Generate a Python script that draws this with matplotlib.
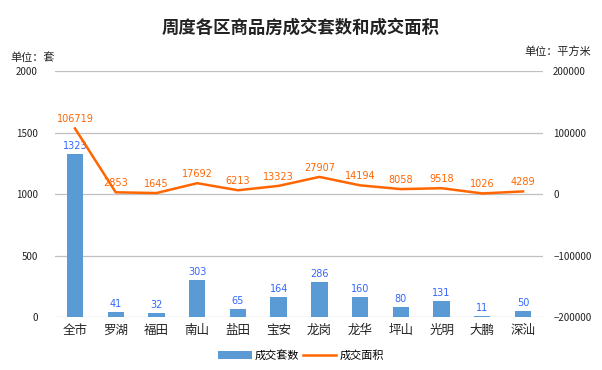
import matplotlib
matplotlib.use("Agg")
import matplotlib.pyplot as plt
import numpy as np

plt.rcParams['font.family'] = ['Noto Sans CJK SC', 'DejaVu Sans']

categories = ["全市", "罗湖", "福田", "南山", "盐田", "宝安", "龙岗", "龙华", "坪山", "光明", "大鹏", "深汕"]
units_sold = [1323, 41, 32, 303, 65, 164, 286, 160, 80, 131, 11, 50]
area_sold = [106719, 2853, 1645, 17692, 6213, 13323, 27907, 14194, 8058, 9518, 1026, 4289]
left_ticks = [0, 500, 1000, 1500, 2000]
right_ticks = [-200000, -100000, 0, 100000, 200000]

bar_color = "#5B9BD5"
line_color = "#FF6600"
label_blue = "#3366FF"

fig = plt.figure(figsize=(6.02, 3.70), dpi=100)
ax = fig.add_axes([0.0907, 0.143, 0.812, 0.665])
x = np.arange(len(categories))

ax.bar(x, units_sold, width=0.4, color=bar_color, zorder=2, label="成交套数")
ax.set_ylim(0, 2000)
ax.set_yticks(left_ticks)
ax.set_xlim(-0.5, len(categories) - 0.5)
ax.set_xticks(x)
ax.set_xticklabels(categories, fontsize=9, color="#222222")
ax.tick_params(axis='both', length=0)
ax.tick_params(axis='y', labelsize=7, colors="#222222", pad=12)
ax.tick_params(axis='x', pad=5)
ax.grid(axis='y', color="#C0C0C0", linewidth=0.9, zorder=0)
for s in ax.spines.values():
    s.set_visible(False)
for xi, v in zip(x, units_sold):
    ax.text(xi, v + 25, str(v), ha='center', va='bottom', fontsize=7, color=label_blue,
            family='DejaVu Sans')

ax2 = ax.twinx()
ax2.plot(x, area_sold, color=line_color, linewidth=1.8, zorder=3, label="成交面积")
ax2.set_ylim(-200000, 200000)
ax2.set_yticks(right_ticks)
ax2.tick_params(axis='y', length=0, labelsize=7, colors="#222222", pad=7)
for s in ax2.spines.values():
    s.set_visible(False)
for xi, v in zip(x, area_sold):
    ax2.text(xi, v + 7000, str(v), ha='center', va='bottom', fontsize=7, color=line_color,
             family='DejaVu Sans')

fig.text(0.5, 0.925, "周度各区商品房成交套数和成交面积", ha='center', va='center',
         fontsize=12.5, fontweight='bold', color="#222222")
fig.text(0.018, 0.845, "单位：套", ha='left', va='center', fontsize=8, color="#222222")
fig.text(0.982, 0.86, "单位：平方米", ha='right', va='center', fontsize=8, color="#222222")

h1, l1 = ax.get_legend_handles_labels()
h2, l2 = ax2.get_legend_handles_labels()
fig.legend(h1 + h2, l1 + l2, loc='center', bbox_to_anchor=(0.5, 0.04), ncol=2,
           frameon=False, fontsize=8, handlelength=3, columnspacing=0.3, handletextpad=0.3)

fig.savefig("out.png", dpi=100)
